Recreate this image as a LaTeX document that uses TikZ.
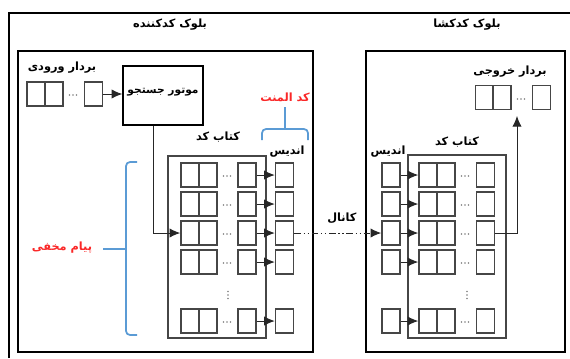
\documentclass[tikz,border=0pt]{standalone}
\usepackage{fontspec}
\usepackage{tikz}
\usetikzlibrary{arrows.meta}
\newfontfamily\fa[Script=Arabic]{DejaVu Sans}
\TeXXeTstate=1
\newcommand{\fatext}[1]{{\fa\bfseries\beginR #1\endR}}
\newcommand{\hdotrow}[2]{\foreach \k in {-3.5,0,3.5}{\fill [black!50] (#1+\k,#2) circle (0.7pt);}}
\newcommand{\vdotcol}[2]{\foreach \k in {-3.5,0,3.5}{\fill [black!50] (#1,#2+\k) circle (0.7pt);}}
\definecolor{cellgray}{RGB}{70,70,70}
\definecolor{braceblue}{RGB}{91,155,213}
\definecolor{labelred}{RGB}{250,40,40}
\tikzset{
  cell/.style={draw=cellgray, line width=1.2pt, minimum width=13.5pt, minimum height=18pt, inner sep=0pt},
  arr/.style={-{Latex[length=8pt,width=7pt]}, line width=0.7pt, draw=black!85},
  blockbox/.style={draw, line width=1.5pt},
  bookbox/.style={draw=cellgray, line width=1.1pt},
  lbl/.style={inner sep=0.75pt, font=\fontsize{8.5}{10}\selectfont},
  brace/.style={draw=braceblue, line width=1.3pt, rounded corners=3}
}

\begin{document}
\begin{tikzpicture}[x=0.75pt,y=0.75pt,yscale=-1,xscale=1]
\useasboundingbox (0,0) rectangle (570,358);

% Outer frame
\draw [line width=2pt] (9,358) -- (9,13) -- (570,13);
% Block boxes
\draw [blockbox] (18,51) rectangle (313,352);
\draw [blockbox] (366,51) rectangle (565,352);
% Codebook boxes
\draw [bookbox] (168,156) rectangle (266,338);
\draw [bookbox] (408,155) rectangle (506,338);

% Text Node
\draw (170,25) node [lbl] {\fatext{بلوک کدکننده}};
% Text Node
\draw (467,25) node [lbl] {\fatext{بلوک کدکشا}};

% Input vector
\draw (62,68) node [lbl] {\fatext{بردار ورودی}};
\node [cell] (inA) at (36,94) {};
\node [cell] (inB) at (54,94) {};
\hdotrow{73}{95}
\node [cell] (inN) at (93.5,94) {};

% Search engine
\node [draw, line width=1.1pt, minimum width=60pt, minimum height=44pt, inner sep=0pt] (engine) at (163,95.5) {};
\draw (163,92) node [inner sep=0.75pt, font=\fontsize{8}{10}\selectfont] {\fatext{موتور جستجو}};
\draw [arr] (inN.east) -- (inN.east -| engine.west);

% Code element and hidden message
\draw (285,97) node [lbl, text=labelred] {\fatext{کد المنت}};
\draw [brace] (262,140) -- (262,129) -- (308,129) -- (308,140);
\draw [brace] (285,129) -- (285,107);
\draw (62,248) node [lbl, text=labelred] {\fatext{پیام مخفی}};
\draw [brace] (137,162) -- (126,162) -- (126,335) -- (137,335);
\draw [brace] (126,249) -- (103,249);

% Text Node
\draw (218,137) node [lbl] {\fatext{کتاب کد}};
\draw (287,152) node [lbl] {\fatext{اندیس}};
\draw (457,142) node [lbl] {\fatext{کتاب کد}};
\draw (388,152) node [lbl] {\fatext{اندیس}};
\draw (342,218) node [lbl] {\fatext{کانال}};

% Codebook rows
\foreach \r/\y in {1/175,2/204,3/233,4/262,5/321}{
  \node [cell] (la\r) at (190,\y) {};
  \node [cell] (lb\r) at (208,\y) {};
  \hdotrow{227}{\y+1}
  \node [cell] (ln\r) at (247,\y) {};
  \node [cell] (li\r) at (284.5,\y) {};
  \draw [arr] (ln\r) -- (li\r);
  \node [cell] (ri\r) at (391,\y) {};
  \node [cell] (ra\r) at (428,\y) {};
  \node [cell] (rb\r) at (446,\y) {};
  \hdotrow{465}{\y+1}
  \node [cell] (rn\r) at (485.5,\y) {};
  \draw [arr] (ri\r) -- (ra\r);
}
\vdotcol{228}{295}
\vdotcol{467}{295}

% Engine to codebook
\draw [arr] ([xshift=-7.5pt]engine.south) |- (la3.west);

% Channel
\draw [arr, dash pattern=on 5pt off 2pt on 1pt off 2pt on 1pt off 2pt] (li3.east) -- (ri3.west);

% Output vector
\draw (510,72) node [lbl] {\fatext{بردار خروجی}};
\node [cell] (outA) at (484.5,97.5) {};
\node [cell] (outB) at (502,97.5) {};
\hdotrow{521}{99}
\node [cell] (outN) at (541.5,97.5) {};
\coordinate (outIn) at (517,116);
\draw [arr] (rn3.east) -| (outIn);

\end{tikzpicture}
\end{document}
